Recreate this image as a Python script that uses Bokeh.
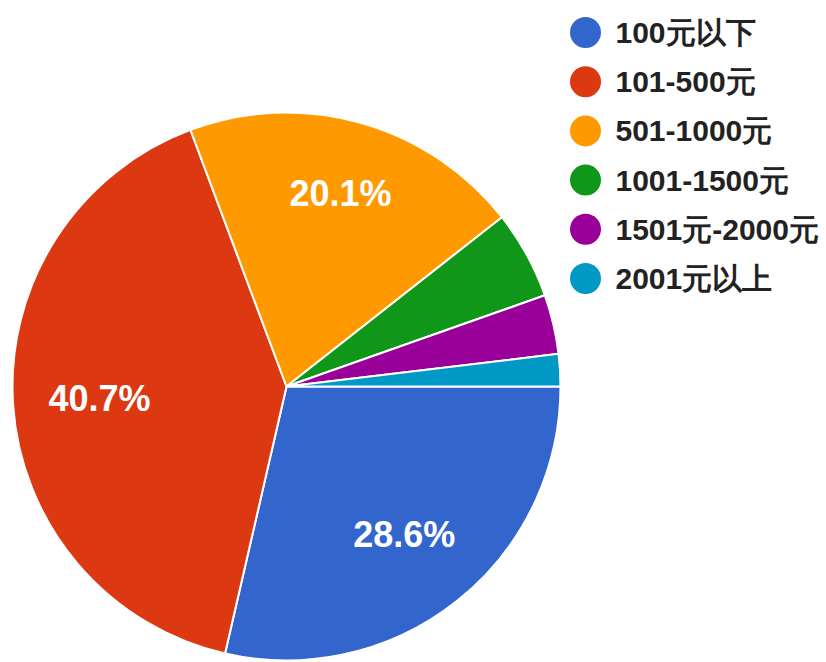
import math
from bokeh.plotting import figure
from bokeh.models import Range1d, ColumnDataSource
from bokeh.core.properties import value
from bokeh.embed import file_html
from bokeh.resources import INLINE

categories = ["100元以下", "101-500元", "501-1000元", "1001-1500元", "1501元-2000元", "2001元以上"]
percents = [28.6, 40.7, 20.1, 5.2, 3.5, 1.9]
colors = ["#3366cc", "#dc3912", "#ff9900", "#109618", "#990099", "#0099c6"]

# label placement (fraction of radius) for slices that carry a label
label_r = [0.69, 0.684, 0.73, 0.7, 0.7, 0.7]

W, H = 826, 662
CX, CY, R = 286, 386, 274  # pie centre / radius in pixels

p = figure(width=W, height=H, output_backend="svg", toolbar_location=None,
           x_range=Range1d(-CX / R, (W - CX) / R),
           y_range=Range1d(-(H - CY) / R, CY / R),
           min_border=0)
p.axis.visible = False
p.grid.visible = False
p.outline_line_color = None
p.background_fill_color = "white"
p.border_fill_color = "white"

total = sum(percents)
starts, ends, mids = [], [], []
cum = 0.0
for v in percents:
    a0 = cum / total * 2 * math.pi
    cum += v
    a1 = cum / total * 2 * math.pi
    # clockwise from 3 o'clock
    starts.append(-a1)
    ends.append(-a0)
    mids.append(-(a0 + a1) / 2)

src = ColumnDataSource(dict(start=starts, end=ends, color=colors))
p.wedge(x=0, y=0, radius=1, start_angle="start", end_angle="end",
        fill_color="color", line_color="white", line_width=2, source=src)

# percentage labels inside the large slices
lx, ly, lt = [], [], []
for v, m, fr in zip(percents, mids, label_r):
    if v >= 10:
        lx.append(fr * math.cos(m))
        ly.append(fr * math.sin(m))
        lt.append(f"{v:.1f}%")
p.text(x=lx, y=ly, text=lt, text_color="white", text_font=value("Liberation Sans"),
       text_font_style="bold", text_font_size="36px", text_align="center",
       text_baseline="middle")

# legend
leg_x = (585 - CX) / R
txt_x = (615 - CX) / R
ys = [(CY - (32 + 49.2 * i)) / R for i in range(len(categories))]
p.scatter(x=[leg_x] * len(categories), y=ys, size=31, fill_color=colors, line_color=None)
p.text(x=[txt_x] * len(categories), y=ys, text=categories, text_color="#222222",
       text_font=value("Liberation Sans"), text_font_style="bold",
       text_font_size="30px", text_align="left", text_baseline="middle")

open("out.html", "w").write(file_html(p, INLINE))
